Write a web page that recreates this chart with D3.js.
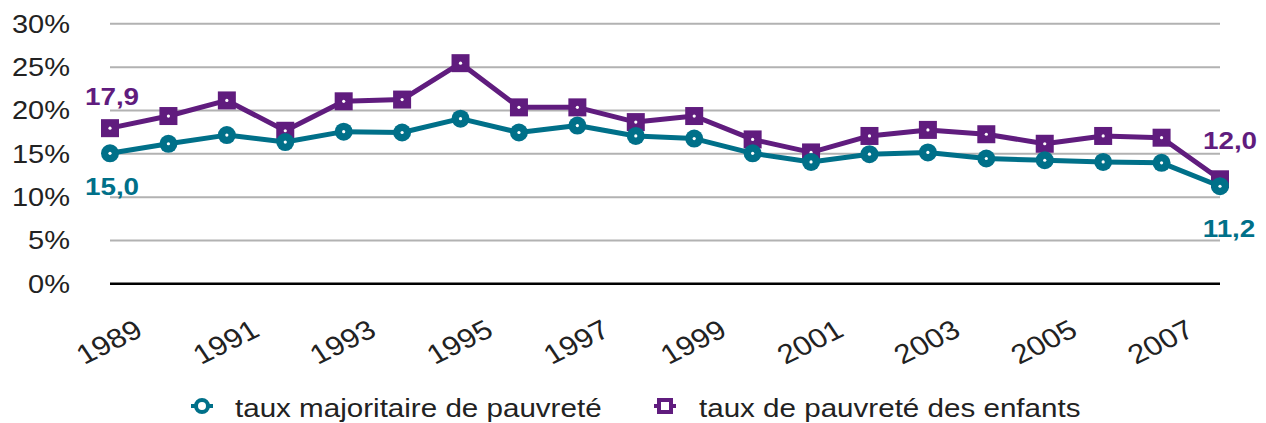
<!DOCTYPE html>
<html>
<head>
<meta charset="utf-8">
<script src="https://cdn.jsdelivr.net/npm/d3@7"></script>
<style>
  html, body { margin: 0; padding: 0; background: #fff; }
  svg { display: block; font-family: Helvetica, "Liberation Sans", Arial, sans-serif; }
</style>
</head>
<body>
<script>
// data
var years = ["1989","1990","1991","1992","1993","1994","1995","1996","1997","1998",
             "1999","2000","2001","2002","2003","2004","2005","2006","2007","2008"];
var majorityRate = [15.0, 16.1, 17.1, 16.3, 17.5, 17.4, 19.0, 17.4, 18.2, 17.0,
                    16.7, 15.0, 14.0, 14.9, 15.1, 14.4, 14.2, 14.0, 13.9, 11.2];
var childRate    = [17.9, 19.3, 21.1, 17.6, 21.0, 21.2, 25.4, 20.3, 20.3, 18.6,
                    19.3, 16.6, 15.1, 17.0, 17.7, 17.2, 16.1, 17.0, 16.8, 12.0];
var yTicks = [0, 5, 10, 15, 20, 25, 30];
var seriesNames = ["taux majoritaire de pauvreté", "taux de pauvreté des enfants"];

var W = 1266, H = 423;
var teal = "#007089", purple = "#601c7e";
var sx = 1.16; // the reference is stretched a bit horizontally

var svg = d3.select("body").append("svg").attr("width", W).attr("height", H);

var x = d3.scalePoint().domain(years).range([110, 1220]);
var y = d3.scaleLinear().domain([0, 30]).range([283.3, 23.3]);

// y axis with grid
var yAxis = svg.append("g").attr("transform", "translate(110,0)")
    .call(d3.axisLeft(y).tickValues(yTicks).tickSize(-1110).tickPadding(0)
        .tickFormat(function(d) { return d + "%"; }));
yAxis.select(".domain").remove();
yAxis.selectAll(".tick line")
    .attr("stroke", function(d) { return d === 0 ? "#000" : "#b2b2b2"; })
    .attr("stroke-width", function(d) { return d === 0 ? 2.5 : 2; });
yAxis.selectAll(".tick text")
    .attr("x", null).attr("dy", null)
    .attr("text-anchor", "end")
    .attr("dominant-baseline", "central")
    .attr("transform", "translate(-40,0) scale(" + sx + ",1)")
    .attr("font-size", 25).attr("fill", "#222")
    .style("font-family", "Helvetica, 'Liberation Sans', Arial, sans-serif");

// x axis labels
var xAxis = svg.append("g").attr("transform", "translate(0,284)")
    .call(d3.axisBottom(x).tickValues(years.filter(function(d, i) { return i % 2 === 0; }))
        .tickSize(0));
xAxis.select(".domain").remove();
xAxis.selectAll(".tick text")
    .attr("y", null).attr("dy", null)
    .attr("text-anchor", "end")
    .attr("transform", "translate(34,51) scale(" + sx + ",1) rotate(-30)")
    .attr("font-size", 27).attr("fill", "#222")
    .style("font-family", "Helvetica, 'Liberation Sans', Arial, sans-serif");

function drawSeries(values, color, shape) {
  var line = d3.line().x(function(d, i) { return x(years[i]); }).y(function(d) { return y(d); });
  var g = svg.append("g");
  g.append("path").datum(values).attr("d", line)
    .attr("fill", "none").attr("stroke", color).attr("stroke-width", 5)
    .attr("stroke-linejoin", "round");
  var pts = g.selectAll(".pt").data(values).enter().append("g")
    .attr("transform", function(d, i) { return "translate(" + x(years[i]) + "," + y(d) + ")"; });
  if (shape === "circle") {
    pts.append("circle").attr("r", 9).attr("fill", color);
  } else {
    pts.append("rect").attr("x", -9).attr("y", -9).attr("width", 18).attr("height", 18).attr("fill", color);
  }
  pts.append("circle").attr("r", 1.6).attr("fill", "#fff");
}

drawSeries(childRate, purple, "square");
drawSeries(majorityRate, teal, "circle");

// end value labels
function fmt(v) { return v.toFixed(1).replace(".", ","); }
function endLabel(v, px, py, color) {
  svg.append("text")
    .attr("transform", "translate(" + px + "," + py + ") scale(" + sx + ",1)")
    .attr("text-anchor", "middle")
    .attr("font-size", 24).attr("font-weight", "bold").attr("fill", color)
    .text(fmt(v));
}
var last = years.length - 1;
endLabel(childRate[0], x(years[0]) + 2, 105, purple);
endLabel(majorityRate[0], x(years[0]) + 2, 195, teal);
endLabel(childRate[last], x(years[last]) + 10, 149, purple);
endLabel(majorityRate[last], x(years[last]) + 9, 237, teal);

// legend
var legend = svg.append("g");
var items = [
  { name: seriesNames[0], color: teal, shape: "circle", cx: 202, tx: 235 },
  { name: seriesNames[1], color: purple, shape: "square", cx: 665, tx: 699 }
];
items.forEach(function(it) {
  var g = legend.append("g").attr("transform", "translate(" + it.cx + ",406)");
  g.append("line").attr("x1", -11).attr("x2", 11).attr("stroke", it.color).attr("stroke-width", 4);
  if (it.shape === "circle") {
    g.append("circle").attr("r", 6).attr("fill", "#fff").attr("stroke", it.color).attr("stroke-width", 4);
  } else {
    g.append("rect").attr("x", -6).attr("y", -6).attr("width", 12).attr("height", 12)
      .attr("fill", "#fff").attr("stroke", it.color).attr("stroke-width", 4);
  }
  legend.append("text")
    .attr("transform", "translate(" + it.tx + ",417) scale(" + sx + ",1)")
    .attr("font-size", 25.5).attr("fill", "#222")
    .text(it.name);
});
</script>
</body>
</html>
